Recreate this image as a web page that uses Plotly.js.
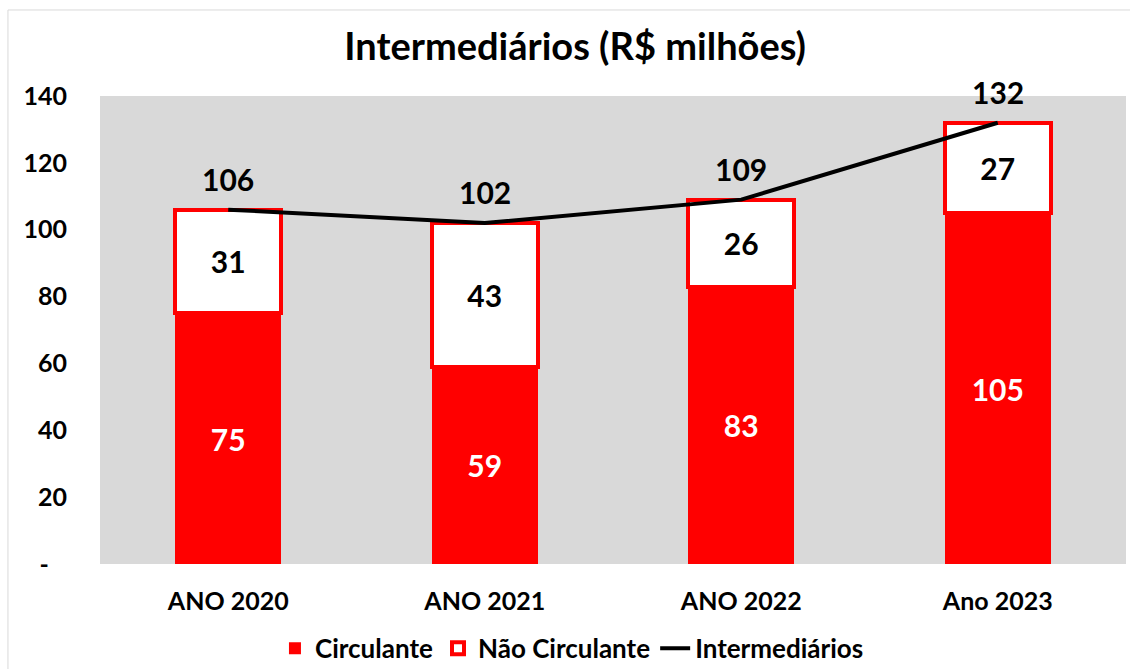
<!DOCTYPE html>
<html>
<head>
<meta charset="utf-8">
<script src="https://cdn.plot.ly/plotly-3.0.1.min.js"></script>
<style>
  body { margin: 0; background: #fff; }
  #chart { width: 1130px; height: 669px; }
</style>
</head>
<body>
<div id="chart"></div>
<script>
const anos = ['ANO 2020', 'ANO 2021', 'ANO 2022', 'Ano 2023'];
const circulante = [75, 59, 83, 105];
const naoCirculante = [31, 43, 26, 27];
const intermediarios = [106, 102, 109, 132];

const yTicks = [0, 20, 40, 60, 80, 100, 120, 140];
const yTickText = ['-\u00a0\u00a0\u00a0', '20', '40', '60', '80', '100', '120', '140'];

const fonte = 'Lato, "Open Sans", sans-serif';

const data = [
  {
    x: anos,
    y: circulante,
    type: 'bar',
    name: 'Circulante',
    marker: { color: '#ff0000', line: { width: 0 } },
    text: circulante.map(String),
    textposition: 'inside',
    insidetextanchor: 'middle',
    textangle: 0,
    constraintext: 'none',
    textfont: { color: '#ffffff', size: 30, family: fonte, weight: 'bold' },
    hoverinfo: 'skip'
  },
  {
    x: anos,
    y: naoCirculante,
    type: 'bar',
    name: 'Não Circulante',
    marker: { color: '#ffffff', line: { color: '#ff0000', width: 4 } },
    text: naoCirculante.map(String),
    textposition: 'inside',
    insidetextanchor: 'middle',
    textangle: 0,
    constraintext: 'none',
    textfont: { color: '#000000', size: 30, family: fonte, weight: 'bold' },
    hoverinfo: 'skip'
  },
  {
    x: anos,
    y: intermediarios,
    type: 'scatter',
    mode: 'lines',
    name: 'Intermediários',
    line: { color: '#000000', width: 4 },
    hoverinfo: 'skip'
  }
];

// rótulos dos totais acima da linha
const annotations = anos.map((a, i) => ({
  x: a,
  y: intermediarios[i],
  text: String(intermediarios[i]),
  showarrow: false,
  yshift: 31,
  font: { size: 30, color: '#000', family: fonte, weight: 'bold' }
}));

const layout = {
  width: 1130,
  height: 669,
  margin: { l: 100, r: 4, t: 96, b: 105, autoexpand: false },
  paper_bgcolor: '#ffffff',
  plot_bgcolor: '#d9d9d9',
  barmode: 'stack',
  bargap: 0.585,
  font: { family: fonte, color: '#000', weight: 'bold' },
  title: {
    text: 'Intermediários (R$ milhões)',
    font: { size: 38, family: fonte, color: '#000', weight: 'bold' },
    x: 0.509,
    xanchor: 'center',
    y: 0.93,
    yanchor: 'middle'
  },
  xaxis: {
    showgrid: false,
    zeroline: false,
    showline: false,
    ticks: '',
    tickangle: 0,
    automargin: false,
    tickfont: { size: 25, family: fonte, weight: 'bold' },
    ticklabelstandoff: 20
  },
  yaxis: {
    range: [0, 140],
    tickvals: yTicks,
    ticktext: yTickText,
    showgrid: false,
    zeroline: false,
    showline: false,
    automargin: false,
    ticks: '',
    ticklabelstandoff: 32,
    tickfont: { size: 25, family: fonte, weight: 'bold' }
  },
  legend: {
    orientation: 'h',
    x: 0.46,
    xanchor: 'center',
    y: -0.18,
    yanchor: 'middle',
    traceorder: 'normal',
    font: { size: 26, family: fonte, weight: 'bold' },
    itemwidth: 30,
    tracegroupgap: 0
  },
  shapes: [{
    type: 'rect',
    xref: 'paper',
    yref: 'paper',
    x0: -0.0897,
    x1: 1.2,
    y0: -0.4,
    y1: 1.1838,
    line: { color: '#d9d9d9', width: 1 },
    layer: 'below'
  }],
  annotations: annotations,
  showlegend: true
};

Plotly.newPlot('chart', data, layout, { displayModeBar: false, staticPlot: true });
</script>
</body>
</html>
